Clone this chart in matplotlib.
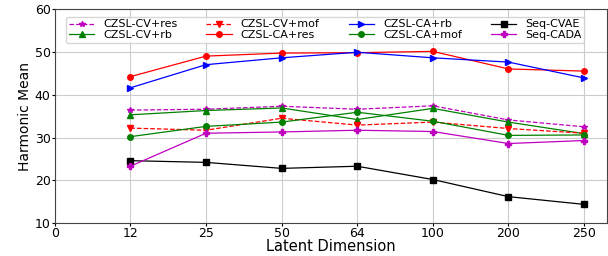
import numpy as np
import matplotlib
matplotlib.use("Agg")
import matplotlib.pyplot as plt

dims = ["12", "25", "50", "64", "100", "200", "250"]

cv_res = [36.4, 36.6, 37.3, 36.6, 37.4, 34.1, 32.5]
cv_rb = [35.3, 36.3, 36.9, 34.2, 36.8, 33.6, 30.9]
cv_mof = [32.2, 31.7, 34.5, 32.9, 33.6, 32.1, 31.0]
ca_res = [44.2, 49.0, 49.7, 49.8, 50.1, 46.0, 45.5]
ca_rb = [41.6, 47.0, 48.6, 49.9, 48.6, 47.6, 43.9]
ca_mof = [30.2, 32.6, 33.6, 35.9, 33.8, 30.5, 30.6]
seq_cvae = [24.6, 24.2, 22.8, 23.3, 20.2, 16.2, 14.4]
seq_cada = [23.3, 31.0, 31.3, 31.7, 31.4, 28.6, 29.3]

fig = plt.figure(figsize=(6.08, 2.56), dpi=100)
ax = fig.add_axes([0.09, 0.128, 0.908, 0.837])

x = np.arange(1, len(dims) + 1)
ms = 4
ax.plot(x, cv_res, "m--", marker="*", ms=ms, lw=0.9, label="CZSL-CV+res")
ax.plot(x, cv_rb, color="green", marker="^", ms=ms, lw=0.9, label="CZSL-CV+rb")
ax.plot(x, cv_mof, "r--", marker="v", ms=ms, lw=0.9, label="CZSL-CV+mof")
ax.plot(x, ca_res, "r-", marker="o", ms=ms, lw=0.9, label="CZSL-CA+res")
ax.plot(x, ca_rb, "b-", marker=">", ms=ms, lw=0.9, label="CZSL-CA+rb")
ax.plot(x, ca_mof, color="green", marker="o", ms=ms, lw=0.9, label="CZSL-CA+mof")
ax.plot(x, seq_cvae, "k-", marker="s", ms=ms, lw=0.9, label="Seq-CVAE")
ax.plot(x, seq_cada, "m-", marker="P", ms=ms + 1, lw=0.9, label="Seq-CADA")

ax.set_xlim(0, 7.3)
ax.set_ylim(10, 60)
ax.set_xticks(np.arange(0, len(dims) + 1))
ax.set_xticklabels(["0"] + dims)
ax.set_yticks([10, 20, 30, 40, 50, 60])
ax.tick_params(labelsize=9, length=2, pad=1)
ax.grid(True, color="#cccccc", lw=0.8)
for s in ax.spines.values():
    s.set_color("#444444")
ax.set_xlabel("Latent Dimension", fontsize=10.5, labelpad=-1)
ax.set_ylabel("Harmonic Mean", fontsize=10, labelpad=2)

ax.legend(loc="upper center", ncol=4, fontsize=8, bbox_to_anchor=(0.49, 0.99),
          columnspacing=2.6, handlelength=2.3, borderpad=0.25, labelspacing=0.05)

fig.savefig("out.png", dpi=100)
